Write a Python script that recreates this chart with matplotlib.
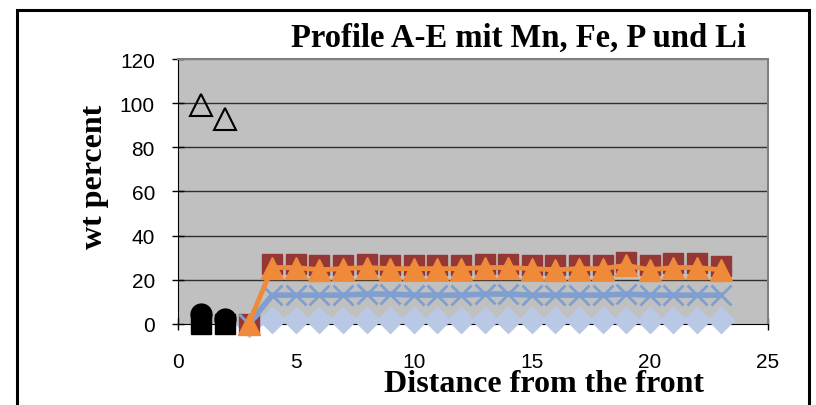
import matplotlib
matplotlib.use("Agg")
import matplotlib.pyplot as plt
from matplotlib.patches import Rectangle

# ---- data ----
x_front = [1, 2]
open_tri = [99, 93]
black_circ = [4.5, 2]
black_sq = [0, 0]

x_prof = list(range(3, 24))
fe_sq = [0, 27, 27, 26.5, 26.5, 27, 26.5, 26.5, 26.5, 26.5, 27, 27, 26.5, 26.5,
         26.5, 26.5, 28, 26.5, 27.5, 27.5, 26]
mn_tri = [0, 25.5, 25.5, 24.5, 25, 25.5, 25, 25, 25, 25, 25.5, 25.5, 25, 24.5,
          25, 25, 26.5, 24.5, 25.5, 25.5, 24.5]
p_x = [0, 13, 13, 13, 13, 13.5, 13.5, 13, 13, 13, 13.5, 13.5, 13, 13, 13, 13,
       13.5, 13, 13, 13, 13]
li_dia = [0, 1.5, 1.5, 1.5, 1.5, 1.5, 1.5, 1.5, 1.5, 1.5, 1.5, 1.5, 1.5, 1.5,
          1.5, 1.5, 1.5, 1.5, 1.5, 1.5, 1.5]

title = "Profile A-E mit Mn, Fe, P und Li"
xlabel = "Distance from the front"
ylabel = "wt percent"
xticks = [0, 5, 10, 15, 20, 25]
yticks = [0, 20, 40, 60, 80, 100, 120]

fig = plt.figure(figsize=(8.16, 4.06), dpi=100)
fig.patches.append(Rectangle((0.021, -0.05), 0.97, 1.022, transform=fig.transFigure,
                             fill=False, edgecolor="black", linewidth=2.2))
ax = fig.add_axes([0.218, 0.2, 0.723, 0.652])
ax.set_facecolor("#C0C0C0")
ax.set_xlim(0, 25)
ax.set_ylim(0, 120)

for yv in yticks[1:]:
    ax.axhline(yv, color="#303030" if yv < 120 else "#808080", linewidth=1.0, zorder=1)

# series
ax.plot(x_prof, li_dia, color="#B9C9E5", linewidth=2.5, marker="D", markersize=13,
        markerfacecolor="#B9C9E5", markeredgecolor="#B9C9E5", clip_on=False, zorder=3)
ax.plot(x_prof, fe_sq, color="#953735", linewidth=0, marker="s", markersize=15,
        markerfacecolor="#953735", markeredgecolor="#953735", clip_on=False, zorder=3)
ax.plot(x_prof, p_x, color="#7F9FD0", linewidth=4, marker="x", markersize=15,
        markeredgewidth=2, markeredgecolor="#7F9FD0", clip_on=False, zorder=4)
ax.plot(x_prof, mn_tri, color="#EE8A3A", linewidth=3.5, marker="^", markersize=16,
        markerfacecolor="#EE8A3A", markeredgecolor="#EE8A3A", clip_on=False, zorder=5)

ax.plot(x_front, black_sq, linestyle="none", marker="s", markersize=15,
        color="black", clip_on=False, zorder=6)
ax.plot(x_front, black_circ, linestyle="none", marker="o", markersize=15,
        color="black", clip_on=False, zorder=6)
ax.plot(x_front, open_tri, linestyle="none", marker="^", markersize=16,
        markerfacecolor="none", markeredgecolor="black", markeredgewidth=1.5,
        clip_on=False, zorder=6)

for s in ["top", "right"]:
    ax.spines[s].set_color("#808080")
    ax.spines[s].set_linewidth(1.5)
ax.spines["left"].set_color("black")
ax.spines["bottom"].set_color("black")

ax.set_xticks(xticks)
ax.set_yticks(yticks)
ax.tick_params(axis="both", direction="inout", length=9, width=1, labelsize=15,
               colors="black")
for lab in ax.get_xticklabels() + ax.get_yticklabels():
    lab.set_family("Liberation Sans")
ax.tick_params(axis="x", pad=16)
ax.tick_params(axis="y", pad=12)

fig.text(0.636, 0.905, title, ha="center", va="center", fontsize=23.5,
         fontweight="bold", family="Liberation Serif")
fig.text(0.667, 0.052, xlabel, ha="center", va="center", fontsize=23,
         fontweight="bold", family="Liberation Serif")
fig.text(0.116, 0.564, ylabel, ha="center", va="center", fontsize=23,
         fontweight="bold", family="Liberation Serif", rotation=90)

fig.savefig("out.png", dpi=100)
